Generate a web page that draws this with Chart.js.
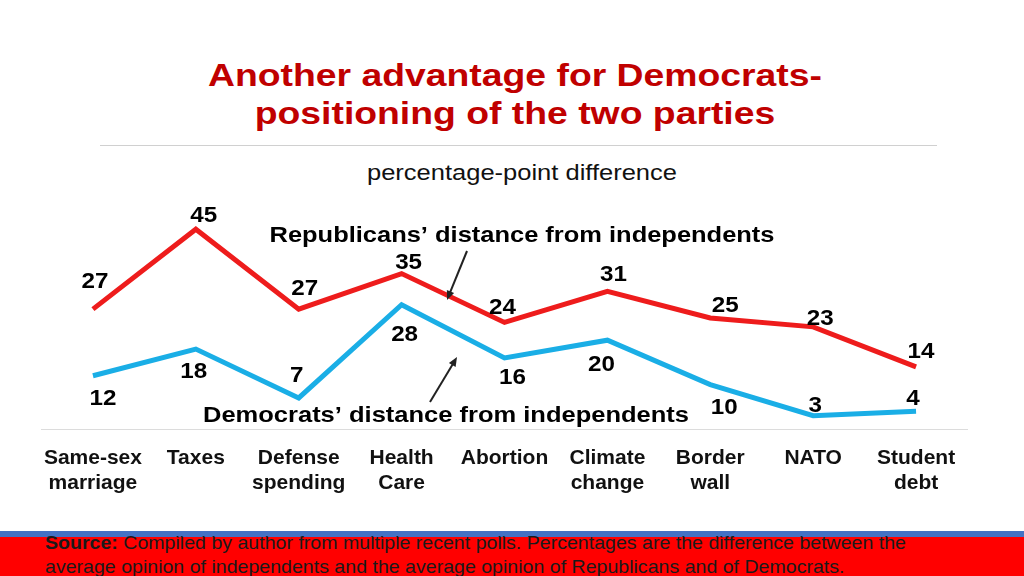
<!DOCTYPE html>
<html>
<head>
<meta charset="utf-8">
<script src="https://cdn.jsdelivr.net/npm/chart.js@4"></script>
<style>
  html, body { margin: 0; padding: 0; background: #fff; }
  #wrap { position: relative; width: 1024px; height: 576px; overflow: hidden; }
  .tline {
    position: absolute; left: 3px; width: 1024px; text-align: center;
    font-family: "Liberation Sans", Arial, sans-serif; font-weight: bold;
    font-size: 31px; line-height: 38px; color: #C00000; transform-origin: 512px 50%;
  }
  #t1 { top: 57px; }
  #t2 { top: 95px; }
  #rule { position: absolute; left: 100px; top: 145px; width: 837px; height: 1px; background: #d0d0d0; }
  #sub {
    position: absolute; left: 0; top: 160px; width: 1044px; text-align: center;
    font-family: "Liberation Sans", Arial, sans-serif; font-size: 22px; color: #111;
    transform-origin: 522px 50%;
  }
  #chart { position: absolute; left: 0; top: 0; }
  #stripe { position: absolute; left: 0; top: 531px; width: 1024px; height: 6px; background: #4472C4; }
  #footer {
    position: absolute; left: 0; top: 537px; width: 1024px; height: 39px; background: #FF0000;
  }
  #source {
    position: absolute; left: 45px; top: 531px; white-space: nowrap;
    font-family: "Liberation Sans", sans-serif; font-size: 19px;
    line-height: 24px; color: #1a1a1a; transform-origin: 0 0;
  }
</style>
</head>
<body>
<div id="wrap">
  <div class="tline" id="t1">Another advantage for Democrats-</div>
  <div class="tline" id="t2">positioning of the two parties</div>
  <div id="rule"></div>
  <div id="sub">percentage-point difference</div>
  <canvas id="chart" width="1024" height="576"></canvas>
  <div id="stripe"></div>
  <div id="footer"></div>
  <div id="source"><b>Source:</b> Compiled by author from multiple recent polls. Percentages are the difference between the<br>average opinion of independents and the average opinion of Republicans and of Democrats.</div>
</div>
<script>
// categorías y valores
const categories = [
  ['Same-sex', 'marriage'], 'Taxes', ['Defense', 'spending'], ['Health', 'Care'],
  'Abortion', ['Climate', 'change'], ['Border', 'wall'], 'NATO', ['Student', 'debt']
];
const republicans = [27, 45, 27, 35, 24, 31, 25, 23, 14];
const democrats = [12, 18, 7, 28, 16, 20, 10, 3, 4];

// desplazamiento de las etiquetas respecto a cada punto (px)
const redLabelOffsets = [[2, -27], [8, -13], [6, -20], [7, -11], [-2, -15], [6, -16], [15, -12], [7, -8], [5, -15]];
const blueLabelOffsets = [[10, 23], [-2, 23], [-2, -22], [3, 30], [8, 20], [-6, 25], [14, 23], [2, -10], [-3, -12]];

const FONT = '"Liberation Sans", Arial, sans-serif';

// estirar textos HTML al ancho del original
const measure = document.createElement('canvas').getContext('2d');
function stretch(el, font, text, target) {
  measure.font = font;
  const w = measure.measureText(text).width;
  el.style.transform = 'scaleX(' + (target / w) + ')';
}
stretch(document.getElementById('t1'), 'bold 31px ' + FONT, 'Another advantage for Democrats-', 614);
stretch(document.getElementById('t2'), 'bold 31px ' + FONT, 'Another advantage for Democrats-', 614);
stretch(document.getElementById('sub'), '22px ' + FONT, 'percentage-point difference', 310);
(function () {
  const src = document.getElementById('source');
  const w = src.getBoundingClientRect().width;
  src.style.transform = 'scaleX(' + (861 / w) + ')';
})();

function wideText(ctx, text, x, y, sx) {
  ctx.save();
  ctx.translate(x, y);
  ctx.scale(sx, 1);
  ctx.fillText(text, 0, 0);
  ctx.restore();
}

function arrow(ctx, x1, y1, x2, y2) {
  const ang = Math.atan2(y2 - y1, x2 - x1);
  const head = 10;
  ctx.beginPath();
  ctx.moveTo(x1, y1);
  ctx.lineTo(x2 - Math.cos(ang) * 6, y2 - Math.sin(ang) * 6);
  ctx.stroke();
  ctx.beginPath();
  ctx.moveTo(x2, y2);
  ctx.lineTo(x2 - head * Math.cos(ang - 0.4), y2 - head * Math.sin(ang - 0.4));
  ctx.lineTo(x2 - head * Math.cos(ang + 0.4), y2 - head * Math.sin(ang + 0.4));
  ctx.closePath();
  ctx.fill();
}

const labelsPlugin = {
  id: 'labelsPlugin',
  afterDatasetsDraw(chart) {
    const ctx = chart.ctx;
    ctx.save();
    ctx.font = 'bold 22px ' + FONT;
    ctx.fillStyle = '#000';
    ctx.textAlign = 'center';
    ctx.textBaseline = 'middle';
    const sets = [redLabelOffsets, blueLabelOffsets];
    chart.data.datasets.forEach((ds, i) => {
      chart.getDatasetMeta(i).data.forEach((pt, j) => {
        const off = sets[i][j];
        wideText(ctx, String(ds.data[j]), pt.x + off[0], pt.y + off[1], 1.1);
      });
    });

    // anotaciones
    const t1 = 'Republicans\u2019 distance from independents';
    const t2 = 'Democrats\u2019 distance from independents';
    wideText(ctx, t1, 522, 236, 505 / ctx.measureText(t1).width);
    wideText(ctx, t2, 446, 416, 486 / ctx.measureText(t2).width);
    ctx.strokeStyle = '#222';
    ctx.fillStyle = '#222';
    ctx.lineWidth = 2;
    arrow(ctx, 467, 251, 447, 300);
    arrow(ctx, 430, 402, 457, 357);
    ctx.restore();
  }
};

new Chart(document.getElementById('chart'), {
  type: 'line',
  data: {
    labels: categories,
    datasets: [
      {
        label: 'Republicans',
        data: republicans,
        borderColor: '#EE1C1C',
        borderWidth: 5,
        pointRadius: 0,
        tension: 0
      },
      {
        label: 'Democrats',
        data: democrats,
        borderColor: '#1AAEE6',
        borderWidth: 5,
        pointRadius: 0,
        tension: 0
      }
    ]
  },
  options: {
    responsive: false,
    animation: false,
    layout: { padding: { left: 41.5, right: 56.5, top: 207, bottom: 0 } },
    plugins: { legend: { display: false }, tooltip: { enabled: false }, title: { display: false } },
    scales: {
      x: {
        offset: true,
        grid: { display: false },
        border: { display: true, color: '#dcdcdc', width: 1 },
        ticks: {
          color: '#111',
          font: { family: FONT, size: 21, weight: 'bold', lineHeight: 1.19 },
          padding: 9,
          maxRotation: 0,
          autoSkip: false
        },
        afterFit: (scale) => { scale.height = 147; }
      },
      y: {
        display: false,
        min: 0,
        max: 50
      }
    }
  },
  plugins: [labelsPlugin]
});
</script>
</body>
</html>
